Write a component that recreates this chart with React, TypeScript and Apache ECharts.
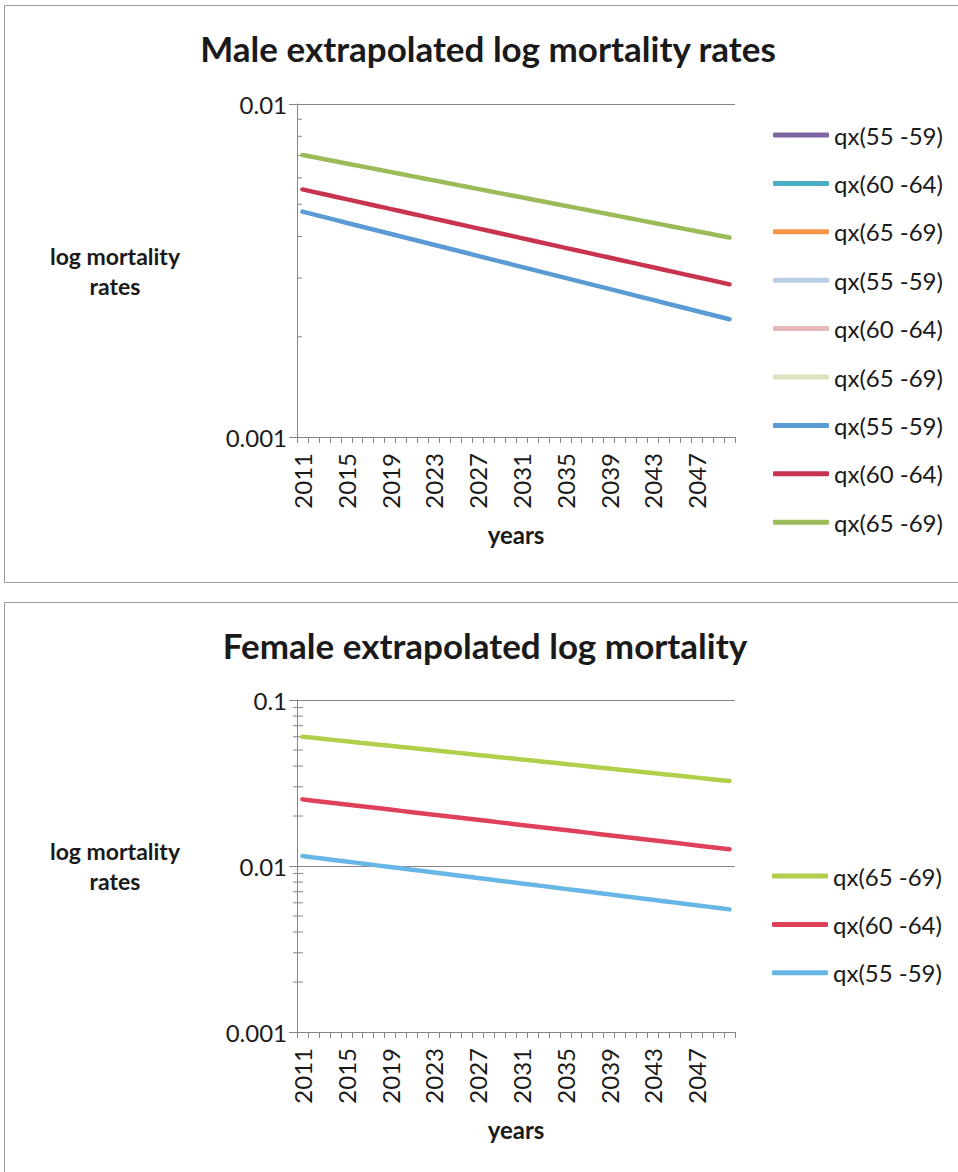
import React, { useEffect, useRef } from "react";
import * as echarts from "echarts";

const years = [
  "2011", "2012", "2013", "2014", "2015", "2016", "2017", "2018", "2019", "2020",
  "2021", "2022", "2023", "2024", "2025", "2026", "2027", "2028", "2029", "2030",
  "2031", "2032", "2033", "2034", "2035", "2036", "2037", "2038", "2039", "2040",
  "2041", "2042", "2043", "2044", "2045", "2046", "2047", "2048", "2049", "2050",
];

const maleQx5559 = [
  0.004750, 0.004660, 0.004572, 0.004486, 0.004401, 0.004318, 0.004236, 0.004156, 0.004078, 0.004001,
  0.003925, 0.003851, 0.003778, 0.003707, 0.003637, 0.003568, 0.003500, 0.003434, 0.003369, 0.003306,
  0.003243, 0.003182, 0.003122, 0.003063, 0.003005, 0.002948, 0.002892, 0.002838, 0.002784, 0.002732,
  0.002680, 0.002629, 0.002580, 0.002531, 0.002483, 0.002436, 0.002390, 0.002345, 0.002301, 0.002257,
];
const maleQx6064 = [
  0.005540, 0.005448, 0.005357, 0.005267, 0.005179, 0.005093, 0.005008, 0.004925, 0.004842, 0.004762,
  0.004682, 0.004604, 0.004527, 0.004452, 0.004377, 0.004304, 0.004233, 0.004162, 0.004092, 0.004024,
  0.003957, 0.003891, 0.003826, 0.003762, 0.003699, 0.003638, 0.003577, 0.003517, 0.003459, 0.003401,
  0.003344, 0.003288, 0.003234, 0.003180, 0.003127, 0.003074, 0.003023, 0.002973, 0.002923, 0.002874,
];
const maleQx6569 = [
  0.007030, 0.006928, 0.006827, 0.006728, 0.006630, 0.006534, 0.006439, 0.006345, 0.006253, 0.006162,
  0.006072, 0.005984, 0.005897, 0.005811, 0.005727, 0.005643, 0.005561, 0.005481, 0.005401, 0.005322,
  0.005245, 0.005169, 0.005094, 0.005019, 0.004946, 0.004875, 0.004804, 0.004734, 0.004665, 0.004597,
  0.004530, 0.004464, 0.004400, 0.004336, 0.004273, 0.004210, 0.004149, 0.004089, 0.004029, 0.003971,
];

const femaleQx5559 = [
  0.011480, 0.011264, 0.011053, 0.010845, 0.010641, 0.010441, 0.010245, 0.010053, 0.009864, 0.009679,
  0.009497, 0.009319, 0.009144, 0.008972, 0.008803, 0.008638, 0.008476, 0.008317, 0.008160, 0.008007,
  0.007856, 0.007709, 0.007564, 0.007422, 0.007282, 0.007146, 0.007011, 0.006880, 0.006750, 0.006624,
  0.006499, 0.006377, 0.006257, 0.006140, 0.006024, 0.005911, 0.005800, 0.005691, 0.005584, 0.005479,
];
const femaleQx6064 = [
  0.025200, 0.024757, 0.024322, 0.023894, 0.023474, 0.023062, 0.022656, 0.022258, 0.021867, 0.021482,
  0.021105, 0.020734, 0.020369, 0.020011, 0.019659, 0.019314, 0.018974, 0.018641, 0.018313, 0.017991,
  0.017675, 0.017364, 0.017059, 0.016759, 0.016464, 0.016175, 0.015890, 0.015611, 0.015337, 0.015067,
  0.014802, 0.014542, 0.014286, 0.014035, 0.013789, 0.013546, 0.013308, 0.013074, 0.012844, 0.012619,
];
const femaleQx6569 = [
  0.060100, 0.059160, 0.058235, 0.057325, 0.056428, 0.055546, 0.054677, 0.053822, 0.052980, 0.052152,
  0.051336, 0.050533, 0.049743, 0.048965, 0.048199, 0.047445, 0.046703, 0.045973, 0.045254, 0.044546,
  0.043849, 0.043164, 0.042489, 0.041824, 0.041170, 0.040526, 0.039892, 0.039268, 0.038654, 0.038050,
  0.037455, 0.036869, 0.036292, 0.035725, 0.035166, 0.034616, 0.034075, 0.033542, 0.033017, 0.032501,
];

const maleMinorTicks = [0.002, 0.003, 0.004, 0.005, 0.006, 0.007, 0.008, 0.009];
const femaleMinorTicks = [
  0.002, 0.003, 0.004, 0.005, 0.006, 0.007, 0.008, 0.009,
  0.02, 0.03, 0.04, 0.05, 0.06, 0.07, 0.08, 0.09,
];

const maleLegend = [
  "qx(55 -59)", "qx(60 -64)", "qx(65 -69)",
  "qx(55 -59)", "qx(60 -64)", "qx(65 -69)",
  "qx(55 -59)", "qx(60 -64)", "qx(65 -69)",
];
const maleLegendColors = [
  "#8064a2", "#4bacc6", "#f79646",
  "#b9cde5", "#e6b9b8", "#d7e4bd",
  "#5a9bd5", "#c8334f", "#9bbb59",
];
const femaleLegend = ["qx(65 -69)", "qx(60 -64)", "qx(55 -59)"];
const femaleColors = ["#b0d04c", "#e0415a", "#68b6e6"];

const FONT = "Lato";
const AXIS_GRAY = "#868686";
const TEXT = "#1a1a1a";

function logLabel(v: number) {
  return String(Number(v.toPrecision(3)));
}

export default function App() {
  const ref = useRef<HTMLDivElement>(null);

  useEffect(() => {
    if (!ref.current) return;
    const chart = echarts.init(ref.current, undefined, { renderer: "svg" });

    // unique names (trailing spaces) so duplicated legend labels each get an entry
    const maleNames = maleLegend.map((n, i) => n + " ".repeat(i));
    const femaleNames = femaleLegend.map((n, i) => n + " ".repeat(i + 10));

    const maleData = [
      [], [], [],
      [], [], [],
      maleQx5559, maleQx6064, maleQx6569,
    ];
    const femaleData = [femaleQx6569, femaleQx6064, femaleQx5559];

    const minorTickSeries = (grid: number, values: number[], outLen: number, inLen: number) => ({
      type: "custom",
      xAxisIndex: grid,
      yAxisIndex: grid,
      silent: true,
      clip: false,
      z: 1,
      data: values.map((v) => [0, v]),
      encode: { x: 0, y: 1 },
      renderItem: (params: any, api: any) => {
        const cs = params.coordSys;
        const p = api.coord([0, api.value(1)]);
        return {
          type: "line",
          shape: { x1: cs.x - outLen, y1: p[1], x2: cs.x + inLen, y2: p[1] },
          style: { stroke: AXIS_GRAY, lineWidth: 1 },
        };
      },
    });

    const xAxisBase = (grid: number) => ({
      type: "category",
      gridIndex: grid,
      data: years,
      boundaryGap: true,
      name: "years",
      nameLocation: "middle",
      nameGap: 97,
      nameTextStyle: {
        fontFamily: FONT,
        fontWeight: "bold",
        fontSize: 24,
        color: TEXT,
        verticalAlign: "middle",
      },
      axisLine: { show: true, lineStyle: { color: AXIS_GRAY, width: 1 } },
      axisTick: { show: true, interval: 0, length: 6, lineStyle: { color: AXIS_GRAY } },
      axisLabel: {
        interval: 3,
        rotate: 90,
        margin: 16,
        fontFamily: FONT,
        fontSize: 24,
        color: TEXT,
      },
      splitLine: { show: false },
    });

    const yAxisBase = (grid: number, min: number, max: number, gap: number) => ({
      type: "log",
      logBase: 10,
      gridIndex: grid,
      min,
      max,
      name: "log mortality\nrates",
      nameLocation: "middle",
      nameRotate: 0,
      nameGap: gap,
      nameTextStyle: {
        fontFamily: FONT,
        fontWeight: "bold",
        fontSize: 23,
        lineHeight: 30,
        color: TEXT,
        align: "center",
        verticalAlign: "middle",
      },
      axisLine: { show: true, lineStyle: { color: AXIS_GRAY, width: 1 } },
      axisTick: { show: true, length: 8, lineStyle: { color: AXIS_GRAY } },
      axisLabel: {
        margin: 10,
        fontFamily: FONT,
        fontSize: 24,
        color: TEXT,
        formatter: (v: number) => logLabel(v),
      },
      splitLine: { show: true, lineStyle: { color: AXIS_GRAY, width: 1 } },
    });

    const lineSeries = (name: string, data: number[], color: string, grid: number) => ({
      type: "line",
      name,
      xAxisIndex: grid,
      yAxisIndex: grid,
      data,
      symbol: "none",
      showSymbol: false,
      smooth: false,
      z: 3,
      color,
      itemStyle: { color },
      lineStyle: { color, width: 4.5, cap: "round" },
    });

    const legendBase = {
      orient: "vertical",
      icon: "roundRect",
      itemWidth: 56,
      itemHeight: 5,
      itemGap: 24.4,
      itemTextGap: 4,
      padding: 0,
      selectedMode: false,
      formatter: (n: string) => n.trim(),
      textStyle: {
        fontFamily: FONT,
        fontSize: 24,
        lineHeight: 24,
        color: TEXT,
      },
    };

    const titleStyle = {
      fontFamily: FONT,
      fontWeight: "bold",
      fontSize: 35,
      lineHeight: 40,
      color: TEXT,
    };

    chart.setOption({
      animation: false,
      backgroundColor: "#ffffff",
      title: [
        {
          text: "Male extrapolated log mortality rates",
          left: 488,
          top: 28,
          padding: 0,
          textAlign: "center",
          textStyle: titleStyle,
        },
        {
          text: "Female extrapolated log mortality",
          left: 485,
          top: 625,
          padding: 0,
          textAlign: "center",
          textStyle: titleStyle,
        },
      ],
      graphic: [
        {
          type: "rect",
          shape: { x: 4.5, y: 5.5, width: 980, height: 577 },
          style: { fill: "none", stroke: "#9a9a9a", lineWidth: 1 },
          silent: true,
          z: -10,
        },
        {
          type: "rect",
          shape: { x: 4.5, y: 602.5, width: 980, height: 600 },
          style: { fill: "none", stroke: "#9a9a9a", lineWidth: 1 },
          silent: true,
          z: -10,
        },
      ],
      legend: [
        {
          ...legendBase,
          left: 773,
          top: 123,
          data: maleNames,
        },
        {
          ...legendBase,
          left: 772,
          top: 864,
          data: femaleNames,
        },
      ],
      grid: [
        { left: 297, top: 104, width: 438, height: 333 },
        { left: 297, top: 700, width: 438, height: 332 },
      ],
      xAxis: [xAxisBase(0), xAxisBase(1)],
      yAxis: [yAxisBase(0, 0.001, 0.01, 182), yAxisBase(1, 0.001, 0.1, 182)],
      series: [
        ...maleNames.map((n, i) => lineSeries(n, maleData[i], maleLegendColors[i], 0)),
        ...femaleNames.map((n, i) => lineSeries(n, femaleData[i], femaleColors[i], 1)),
        minorTickSeries(0, maleMinorTicks, 0, 5),
        minorTickSeries(1, femaleMinorTicks, 4, 6),
      ],
    });

    return () => {
      chart.dispose();
    };
  }, []);

  return (
    <div
      ref={ref}
      style={{ position: "absolute", left: 0, top: 0, width: 958, height: 1172 }}
    />
  );
}
